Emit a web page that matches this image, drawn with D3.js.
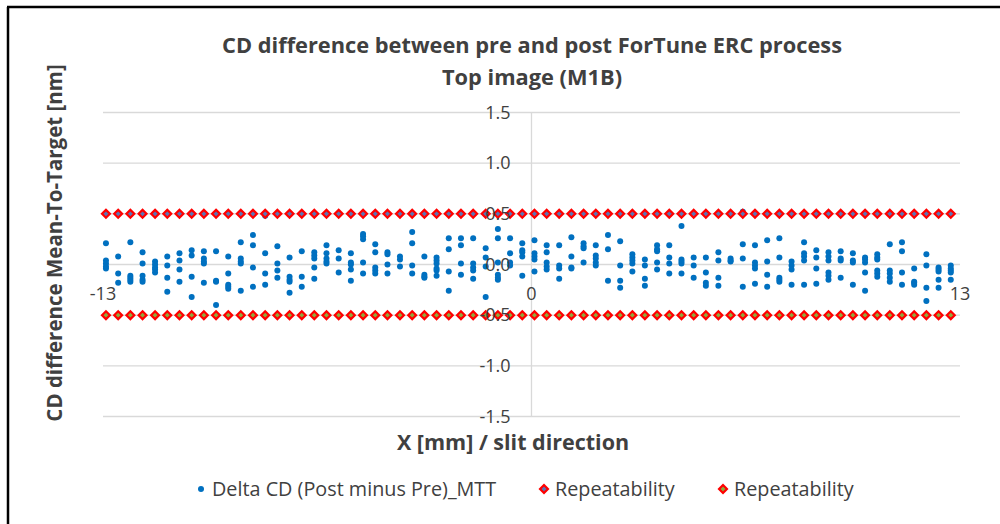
<!DOCTYPE html>
<html>
<head>
<meta charset="utf-8">
<script src="https://cdn.jsdelivr.net/npm/d3@7"></script>
<style>
  body { margin: 0; background: #fff; }
  svg { display: block; font-family: "Open Sans", Lato, "Liberation Sans", sans-serif; }
</style>
</head>
<body>
<div id="chart"></div>
<script>
// slit positions (mm), one column of measurements per position
const slitX = [-12.91, -12.54, -12.17, -11.80, -11.42, -11.05, -10.68, -10.31, -9.94, -9.57,
  -9.20, -8.82, -8.45, -8.08, -7.71, -7.34, -6.97, -6.59, -6.22, -5.85,
  -5.48, -5.11, -4.74, -4.37, -3.99, -3.62, -3.25, -2.88, -2.51, -2.14,
  -1.77, -1.39, -1.02, -0.65, -0.28, 0.09, 0.46, 0.84, 1.21, 1.58,
  1.95, 2.32, 2.69, 3.06, 3.44, 3.81, 4.18, 4.55, 4.92, 5.29,
  5.67, 6.04, 6.41, 6.78, 7.15, 7.52, 7.89, 8.27, 8.64, 9.01,
  9.38, 9.75, 10.12, 10.49, 10.87, 11.24, 11.61, 11.98, 12.35, 12.72];

// Delta CD (Post minus Pre)_MTT, nm, per slit column
const deltaCD = [
  [0.21, 0.04, 0.01, -0.02, -0.04],
  [0.08, -0.09, -0.18],
  [0.22, -0.11, -0.13, -0.15, -0.17],
  [0.12, 0.01, -0.11, -0.15, -0.17],
  [0.03, 0.0, -0.03, -0.05, -0.08],
  [0.08, -0.01, -0.13, -0.27],
  [0.11, 0.04, -0.05, -0.17],
  [0.14, 0.09, -0.12, -0.32],
  [0.13, 0.06, 0.03, 0.01, -0.18],
  [0.13, -0.16, -0.17, -0.40],
  [0.08, -0.09, -0.20, -0.22, -0.24],
  [0.22, 0.06, 0.03, 0.01, -0.26],
  [0.29, 0.19, -0.03, -0.22],
  [0.48, 0.11, -0.09, -0.20],
  [0.18, 0.01, -0.06, -0.13],
  [0.07, -0.12, -0.15, -0.17, -0.28],
  [0.13, -0.12, -0.22],
  [0.12, 0.09, 0.06, -0.03, -0.14],
  [0.19, 0.11, 0.06, 0.03, 0.01],
  [0.14, 0.06, -0.08],
  [0.11, 0.02, 0.0, -0.05, -0.16],
  [0.30, 0.28, 0.25, 0.02, -0.09],
  [0.20, 0.12, -0.03, -0.06, -0.09],
  [0.12, 0.10, 0.0, -0.09],
  [0.08, 0.05, -0.02],
  [0.32, 0.21, -0.01, -0.09],
  [0.08, -0.10, -0.12, -0.13],
  [0.07, 0.04, 0.01, -0.04, -0.06, -0.11],
  [0.26, 0.15, -0.07, -0.26],
  [0.26, 0.19, 0.01, -0.10],
  [0.26, 0.01, -0.03, -0.06, -0.14],
  [0.16, 0.07, -0.02, -0.32],
  [0.35, 0.26, 0.02, -0.10, -0.13, -0.15],
  [0.26, 0.11, 0.02, -0.01],
  [0.21, 0.14, 0.12, 0.08, -0.11],
  [0.24, 0.11, 0.08, 0.05, -0.07],
  [0.19, 0.12, 0.02, -0.02, -0.05],
  [0.19, -0.01, -0.04, -0.14],
  [0.27, 0.08, -0.03, -0.04],
  [0.21, 0.18, 0.16, 0.02],
  [0.19, 0.09, 0.06, 0.02, -0.01],
  [0.29, 0.15, -0.16],
  [0.23, -0.01, -0.16, -0.23],
  [0.10, 0.07, 0.04, 0.01, -0.07],
  [0.05, -0.01, -0.14, -0.21],
  [0.19, 0.15, 0.13, 0.02, -0.05],
  [0.19, 0.07, 0.01, -0.09],
  [0.38, 0.05, 0.03, 0.01, -0.09],
  [0.07, -0.01, -0.13],
  [0.07, -0.08, -0.18, -0.21],
  [0.12, 0.04, -0.13, -0.21],
  [0.06, 0.04, 0.03],
  [0.52, 0.20, 0.06, -0.22],
  [0.19, 0.02, -0.01, -0.04, -0.19],
  [0.24, 0.03, -0.10, -0.22],
  [0.26, 0.07, -0.13, -0.15, -0.17],
  [0.03, -0.01, -0.05, -0.20],
  [0.22, 0.11, 0.08, 0.04, -0.20],
  [0.14, 0.07, -0.04, -0.19],
  [0.12, 0.08, 0.04, -0.08, -0.11, -0.15],
  [0.13, 0.06, 0.04, -0.13],
  [0.11, 0.04, 0.02, -0.20],
  [0.07, 0.05, 0.02, -0.08, -0.26],
  [0.10, 0.07, 0.05, -0.06, -0.09, -0.12],
  [0.20, -0.06, -0.09, -0.13, -0.17],
  [0.22, 0.13, -0.08, -0.20],
  [-0.04, -0.17, -0.18, -0.20],
  [0.10, -0.01, -0.23, -0.36],
  [-0.03, -0.05, -0.07, -0.15, -0.23],
  [-0.01, -0.04, -0.06, -0.08, -0.15]
];

// repeatability limits (nm)
const repeatUpper = 0.5;
const repeatLower = -0.5;

const xTicks = [-13, 0, 13];
const yTicks = [-1.5, -1.0, -0.5, 0, 0.5, 1.0, 1.5];

const seriesNames = ["Delta CD (Post minus Pre)_MTT", "Repeatability", "Repeatability"];

const width = 1000;
const height = 524;
const plot = { left: 103, right: 960, top: 112.5, bottom: 416.5 };

const svg = d3.select('#chart')
  .append('svg')
  .attr('width', width)
  .attr('height', height);

// chart border (top + left visible)
svg.append('line').attr('x1', 7).attr('x2', width).attr('y1', 7).attr('y2', 7)
  .attr('stroke', '#000').attr('stroke-width', 2.5);
svg.append('line').attr('x1', 8).attr('x2', 8).attr('y1', 7).attr('y2', height)
  .attr('stroke', '#000').attr('stroke-width', 2.5);

const xScale = d3.scaleLinear().domain([-13, 13]).range([plot.left, plot.right]);
const yScale = d3.scaleLinear().domain([-1.5, 1.5]).range([plot.bottom, plot.top]);

// GRIDLINES
svg.append('g')
  .selectAll('line')
  .data(yTicks)
  .enter()
  .append('line')
  .attr('x1', plot.left)
  .attr('x2', plot.right)
  .attr('y1', d => yScale(d))
  .attr('y2', d => yScale(d))
  .attr('stroke', '#d9d9d9')
  .attr('stroke-width', 1.3);

// y axis sits at x = 0
svg.append('line')
  .attr('x1', xScale(0)).attr('x2', xScale(0))
  .attr('y1', plot.top).attr('y2', plot.bottom)
  .attr('stroke', '#d9d9d9')
  .attr('stroke-width', 1.3);

// REPEATABILITY DIAMONDS
const diamond = d3.symbol().type(d3.symbolDiamond2).size(40);
const drawLimit = (value, fill) => {
  svg.append('g')
    .selectAll('path')
    .data(slitX)
    .enter()
    .append('path')
    .attr('d', diamond)
    .attr('transform', d => `translate(${xScale(d)},${yScale(value)})`)
    .attr('fill', fill)
    .attr('stroke', '#ff0000')
    .attr('stroke-width', 2.2);
};

// DELTA CD DOTS
const points = [];
deltaCD.forEach((col, i) => {
  col.forEach(v => points.push({ x: slitX[i], y: v }));
});

svg.append('g')
  .selectAll('circle')
  .data(points)
  .enter()
  .append('circle')
  .attr('cx', d => xScale(d.x))
  .attr('cy', d => yScale(d.y))
  .attr('r', 3)
  .attr('fill', '#0070c0');

drawLimit(repeatUpper, '#5b75b5');
drawLimit(repeatLower, '#8faa3c');

// Y TICK LABELS
svg.append('g')
  .selectAll('text')
  .data(yTicks)
  .enter()
  .append('text')
  .attr('x', xScale(0) - 21)
  .attr('y', d => yScale(d))
  .attr('dy', '0.35em')
  .attr('text-anchor', 'end')
  .attr('font-size', 18)
  .attr('fill', '#404040')
  .text(d => d.toFixed(1));

// X TICK LABELS
svg.append('g')
  .selectAll('text')
  .data(xTicks)
  .enter()
  .append('text')
  .attr('x', d => xScale(d))
  .attr('y', yScale(0) + 29)
  .attr('dy', '0.35em')
  .attr('text-anchor', 'middle')
  .attr('font-size', 18)
  .attr('fill', '#404040')
  .text(d => d);

// TITLES
svg.append('text')
  .attr('x', 532).attr('y', 45).attr('dy', '0.35em')
  .attr('text-anchor', 'middle')
  .attr('font-size', 21.8).attr('font-weight', 'bold').attr('fill', '#404040')
  .text('CD difference between pre and post ForTune ERC process');
svg.append('text')
  .attr('x', 532).attr('y', 77).attr('dy', '0.35em')
  .attr('text-anchor', 'middle')
  .attr('font-size', 21.8).attr('font-weight', 'bold').attr('fill', '#404040')
  .text('Top image (M1B)');

svg.append('text')
  .attr('x', 513).attr('y', 442).attr('dy', '0.35em')
  .attr('text-anchor', 'middle')
  .attr('font-size', 21.5).attr('font-weight', 'bold').attr('fill', '#404040')
  .text('X [mm] / slit direction');

svg.append('text')
  .attr('transform', 'translate(55,243) rotate(-90)')
  .attr('dy', '0.35em')
  .attr('text-anchor', 'middle')
  .attr('font-size', 20.5).attr('font-weight', 'bold').attr('fill', '#404040')
  .text('CD difference Mean-To-Target [nm]');

// LEGEND
const legendY = 489;
const legendItems = [
  { name: seriesNames[0], x: 201, kind: 'dot', fill: '#0070c0' },
  { name: seriesNames[1], x: 544, kind: 'diamond', fill: '#5b75b5' },
  { name: seriesNames[2], x: 723, kind: 'diamond', fill: '#8faa3c' }
];
const legend = svg.append('g');
legendItems.forEach(item => {
  if (item.kind === 'dot') {
    legend.append('circle').attr('cx', item.x).attr('cy', legendY).attr('r', 3).attr('fill', item.fill);
  } else {
    legend.append('path')
      .attr('d', diamond)
      .attr('transform', `translate(${item.x},${legendY})`)
      .attr('fill', item.fill)
      .attr('stroke', '#ff0000')
      .attr('stroke-width', 2.2);
  }
  legend.append('text')
    .attr('x', item.x + 11)
    .attr('y', legendY)
    .attr('dy', '0.35em')
    .attr('font-size', 19.8)
    .attr('fill', '#404040')
    .text(item.name);
});
</script>
</body>
</html>
